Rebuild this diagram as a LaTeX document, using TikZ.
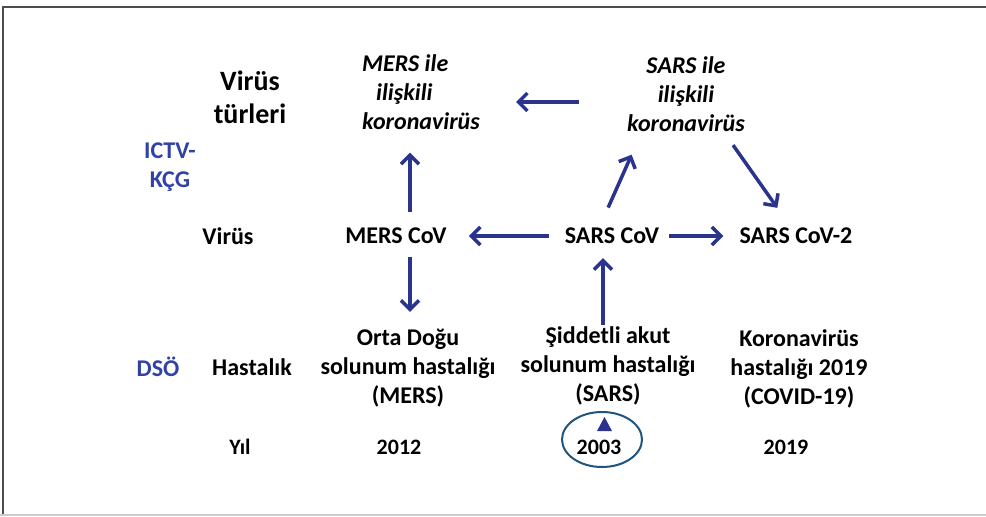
\documentclass[tikz,border=0pt]{standalone}
\usepackage{fontspec}
\setmainfont{Carlito}
\usetikzlibrary{arrows.meta}
\definecolor{arrowblue}{RGB}{43,52,140}
\definecolor{labelblue}{RGB}{48,66,165}
\definecolor{ringblue}{RGB}{30,84,125}
\tikzset{arr/.style={draw=arrowblue, line width=3.5pt, -{Straight Barb[length=9pt,width=18pt]}}}
\tikzset{lbl/.style={font=\fontsize{24}{29}\selectfont\bfseries, inner sep=2pt, align=center}}
\tikzset{kor/.style={lbl, font=\fontsize{24}{29}\selectfont\bfseries\itshape}}
\tikzset{yr/.style={lbl, font=\fontsize{22}{26}\selectfont\bfseries}}

\begin{document}
\begin{tikzpicture}[x=1pt,y=1pt]
\useasboundingbox (0,0) rectangle (986,-517);
\draw[black!20, line width=1.5pt] (0,-515) -- (986,-515);
\draw[black!70, line width=2pt] (3,-514) -- (3,-7) -- (986,-7);

\node[lbl, font=\fontsize{28}{33}\selectfont\bfseries] (vtur) at (250,-97) {Virüs\\türleri};
\node[lbl, text=labelblue] (ictv) at (170,-167) {ICTV-\\KÇG};
\node[kor, align=left] (merskor) at (421,-92) {MERS ile\\\hspace*{14pt}ilişkili\\koronavirüs};
\node[kor] (sarskor) at (686,-94) {SARS ile\\ilişkili\\koronavirüs};

\node[lbl] (virus) at (228,-236) {Virüs};
\node[lbl] (merscov) at (396,-236) {MERS CoV};
\node[lbl] (sarscov) at (612,-236) {SARS CoV};
\node[lbl] (sarscov2) at (796,-236) {SARS CoV-2};

\node[lbl, text=labelblue] (dso) at (158,-367) {DSÖ};
\node[lbl] (hast) at (252,-367) {Hastalık};
\node[lbl] (mersd) at (408,-368) {Orta Doğu\\solunum hastalığı\\(MERS)};
\node[lbl] (sarsd) at (608,-366) {Şiddetli akut\\solunum hastalığı\\(SARS)};
\node[lbl] (covd) at (799,-369) {Koronavirüs\\hastalığı 2019\\(COVID-19)};

\node[yr] (yil) at (240,-447) {Yıl};
\node[yr] (y2012) at (399,-447) {2012};
\node[yr] (y2003) at (599,-447) {2003};
\node[yr] (y2019) at (786,-447) {2019};
\draw[ringblue, line width=2pt] ([shift={(3,7.5)}]y2003.center) ellipse [x radius=40, y radius=27.5];
\fill[arrowblue] ([shift={(-2,16)}]y2003.center) -- ++(15,0) -- ++(-7.5,14) -- cycle;

\draw[arr, shorten <=14pt, shorten >=21pt] ([xshift=14pt]merscov.north) -- ([xshift=-11pt]merskor.south);
\draw[arr, shorten <=11pt, shorten >=15pt] ([xshift=14pt]merscov.south) -- ([xshift=2pt]mersd.north);
\draw[arr, shorten <=14pt, shorten >=20pt] (sarscov.west) -- (merscov.east);
\draw[arr, shorten <=8pt, shorten >=14pt] (sarscov.east) -- (sarscov2.west);
\draw[arr, shorten <=20pt, shorten >=23pt] ([xshift=-12pt]sarscov.north) -- ([xshift=-45pt]sarskor.south);
\draw[arr, shorten <=14pt, shorten >=22pt] ([xshift=39pt]sarskor.south) -- ([xshift=-6pt]sarscov2.north);
\draw[arr, shorten <=46pt, shorten >=34pt] ([yshift=-8pt]sarskor.west) -- ([yshift=-10pt]merskor.east);
\draw[arr, shorten >=12pt] ([xshift=-5pt]sarsd.north) -- ([xshift=-9pt]sarscov.south);
\end{tikzpicture}
\end{document}
